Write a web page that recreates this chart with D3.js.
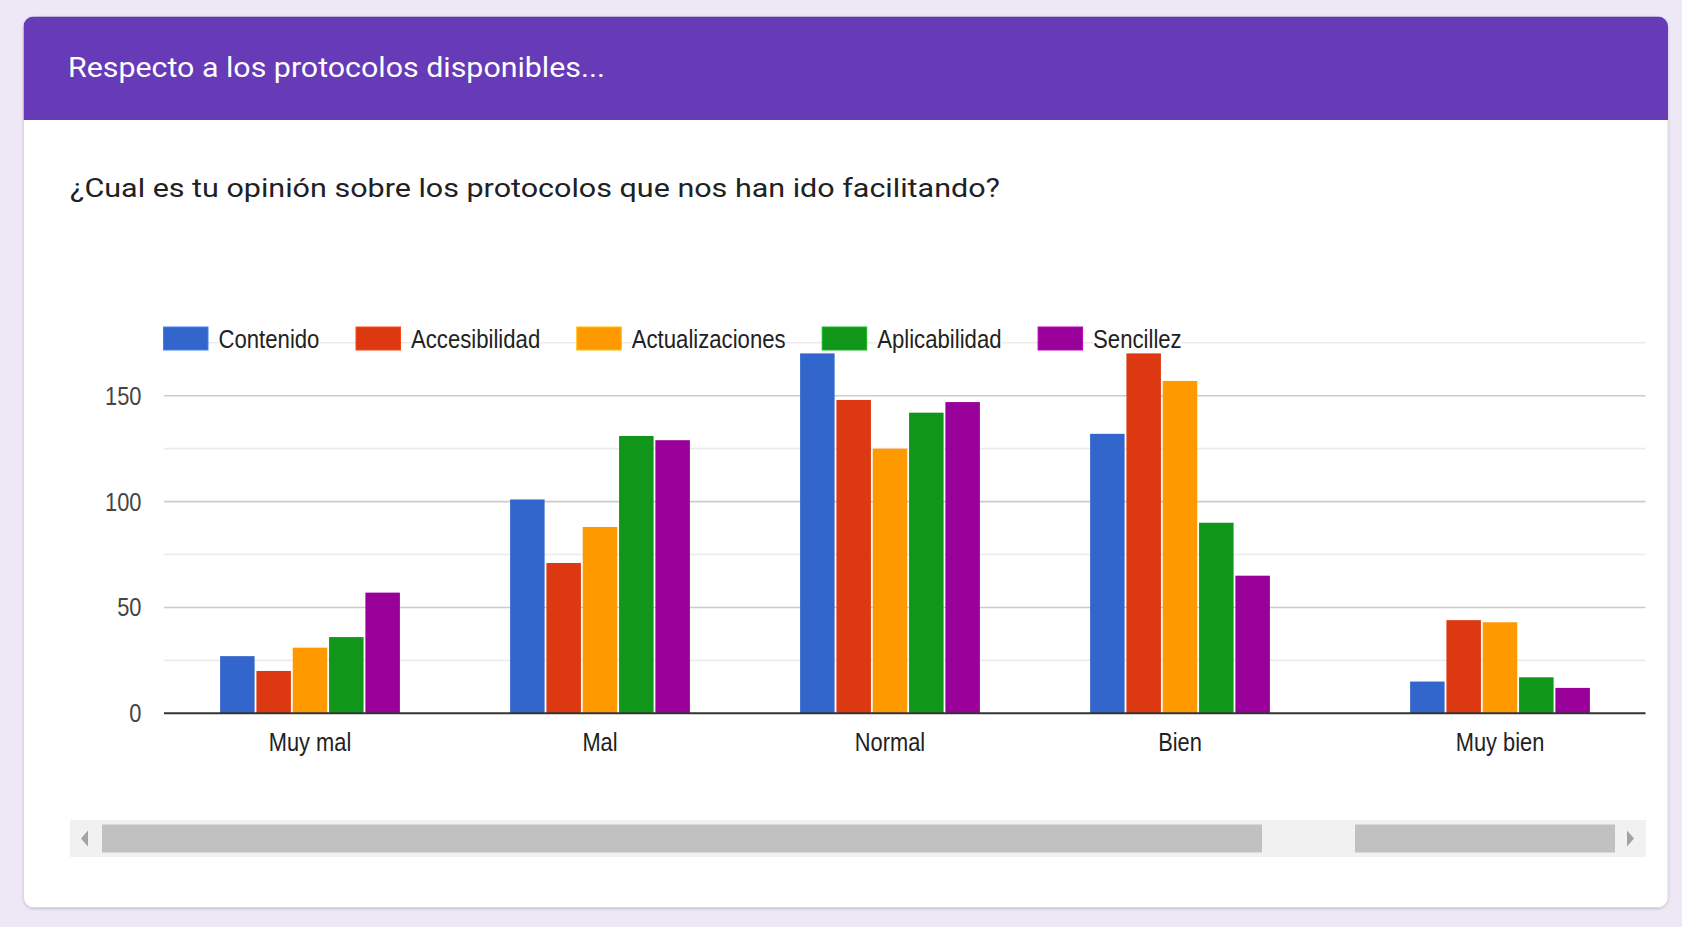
<!DOCTYPE html>
<html>
<head>
<meta charset="utf-8">
<script src="https://cdn.jsdelivr.net/npm/d3@7/dist/d3.min.js"></script>
<style>
  html, body { margin: 0; padding: 0; background: #ede7f6; }
  svg { display: block; }
</style>
</head>
<body>
<div id="chart"></div>
<script>
// ---- data ----
const categories = ["Muy mal", "Mal", "Normal", "Bien", "Muy bien"];
const seriesNames = ["Contenido", "Accesibilidad", "Actualizaciones", "Aplicabilidad", "Sencillez"];
const contenido       = [27, 101, 170, 132, 15];
const accesibilidad   = [20,  71, 148, 170, 44];
const actualizaciones = [31,  88, 125, 157, 43];
const aplicabilidad   = [36, 131, 142,  90, 17];
const sencillez       = [57, 129, 147,  65, 12];
const yLabels = [0, 50, 100, 150];
const gridValues = [0, 25, 50, 75, 100, 125, 150, 175];
const seriesColors = ["#3366cc", "#dc3912", "#ff9900", "#109618", "#990099"];
const sectionTitle = "Respecto a los protocolos disponibles...";
const questionText = "¿Cual es tu opinión sobre los protocolos que nos han ido facilitando?";

const seriesValues = [contenido, accesibilidad, actualizaciones, aplicabilidad, sencillez];

const width = 1682, height = 927;
const chartFont = "'Liberation Sans', Arial, sans-serif";
const narrowX = 0.84;       // the chart text in the capture is squeezed sideways
const legendNarrowX = 0.852;
const stitchShift = 30;     // capture is two scroll positions glued, last group sits further right

const svg = d3.select("#chart").append("svg")
    .attr("width", width)
    .attr("height", height);

const defs = svg.append("defs");
const shadow = defs.append("filter").attr("id", "cardShadow")
    .attr("x", "-5%").attr("y", "-5%").attr("width", "110%").attr("height", "110%");
shadow.append("feDropShadow")
    .attr("dx", 0).attr("dy", 1).attr("stdDeviation", 1.2)
    .attr("flood-color", "#000").attr("flood-opacity", 0.18);

// card
const card = { x: 23.5, y: 16.5, w: 1644.5, h: 891, r: 10 };
defs.append("clipPath").attr("id", "cardClip")
    .append("rect")
    .attr("x", card.x).attr("y", card.y)
    .attr("width", card.w).attr("height", card.h)
    .attr("rx", card.r);

svg.append("rect")
    .attr("x", card.x).attr("y", card.y)
    .attr("width", card.w).attr("height", card.h)
    .attr("rx", card.r)
    .attr("fill", "#fff")
    .attr("stroke", "#dadce0")
    .attr("filter", "url(#cardShadow)");

svg.append("rect")
    .attr("clip-path", "url(#cardClip)")
    .attr("x", card.x).attr("y", card.y)
    .attr("width", card.w).attr("height", 120 - card.y)
    .attr("fill", "#673ab7");

svg.append("text")
    .attr("x", 68).attr("y", 77)
    .attr("font-family", "Roboto, 'Open Sans', sans-serif")
    .attr("font-size", 28)
    .attr("fill", "#fff")
    .attr("textLength", 537)
    .attr("lengthAdjust", "spacingAndGlyphs")
    .text(sectionTitle);

svg.append("text")
    .attr("x", 70).attr("y", 197)
    .attr("font-family", "Roboto, 'Open Sans', sans-serif")
    .attr("font-size", 26)
    .attr("fill", "#202124")
    .attr("textLength", 930)
    .attr("lengthAdjust", "spacingAndGlyphs")
    .text(questionText);

// squeeze a text element sideways around its own anchor
function squeeze(sel) {
    sel.attr("transform", function() {
        const x = +this.getAttribute("x"), y = +this.getAttribute("y");
        return `translate(${x},${y}) scale(${narrowX},1) translate(${-x},${-y})`;
    });
}

// ---- scales ----
const plot = { left: 164, right: 1645.5, top: 342.8, bottom: 713.3 };

const y = d3.scaleLinear()
    .domain([0, 175])
    .range([plot.bottom, plot.top]);

const x0 = d3.scaleBand()
    .domain(categories)
    .range([165, 1615])
    .paddingInner(0.38)
    .paddingOuter(0.19);

const x1 = d3.scaleBand()
    .domain(seriesNames)
    .range([0, x0.bandwidth()])
    .paddingInner(0.05);

const color = d3.scaleOrdinal(seriesNames, seriesColors);

const groupX = c => x0(c) + (c === "Muy bien" ? stitchShift : 0);

// ---- grid ----
const grid = svg.append("g").attr("class", "grid");
grid.selectAll("line")
    .data(gridValues.filter(v => v > 0))
    .join("line")
    .attr("x1", plot.left).attr("x2", plot.right)
    .attr("y1", d => y(d)).attr("y2", d => y(d))
    .attr("stroke", d => d % 50 === 0 ? "#cccccc" : "#ebebeb")
    .attr("stroke-width", 1.6);

// y labels
svg.append("g").selectAll("text")
    .data(yLabels)
    .join("text")
    .attr("x", 141.5)
    .attr("y", d => y(d) + 9)
    .attr("text-anchor", "end")
    .attr("font-family", chartFont)
    .attr("font-size", 26)
    .attr("fill", "#444")
    .text(d => d)
    .call(squeeze);

// ---- bars ----
const rows = categories.map((c, i) => ({
    cat: c,
    vals: seriesNames.map((s, j) => ({ key: s, value: seriesValues[j][i] }))
}));

const groups = svg.append("g").selectAll("g")
    .data(rows)
    .join("g")
    .attr("transform", d => `translate(${groupX(d.cat)},0)`);

groups.selectAll("rect")
    .data(d => d.vals)
    .join("rect")
    .attr("x", d => x1(d.key))
    .attr("y", d => y(d.value))
    .attr("width", x1.bandwidth())
    .attr("height", d => y(0) - y(d.value))
    .attr("fill", d => color(d.key));

// zero line
svg.append("line")
    .attr("x1", plot.left).attr("x2", plot.right)
    .attr("y1", y(0)).attr("y2", y(0))
    .attr("stroke", "#333")
    .attr("stroke-width", 2);

// x labels
svg.append("g").selectAll("text")
    .data(categories)
    .join("text")
    .attr("x", d => groupX(d) + x0.bandwidth() / 2)
    .attr("y", 751)
    .attr("text-anchor", "middle")
    .attr("font-family", chartFont)
    .attr("font-size", 26)
    .attr("fill", "#222")
    .text(d => d)
    .call(squeeze);

// ---- legend ----
const legend = svg.append("g");
let lx = 163.5;
seriesNames.forEach(name => {
    const item = legend.append("g");
    item.append("rect")
        .attr("x", lx).attr("y", 327)
        .attr("width", 44.5).attr("height", 23)
        .attr("fill", color(name))
        .attr("stroke", d3.color(color(name)).brighter(0.6))
        .attr("stroke-width", 1);
    const tx = lx + 55;
    const bg = item.append("rect").attr("fill", "#fff");
    const t = item.append("text")
        .attr("x", tx).attr("y", 348)
        .attr("font-family", chartFont)
        .attr("font-size", 26)
        .attr("fill", "#222")
        .text(name);
    const tw = t.node().getComputedTextLength() * legendNarrowX;
    t.attr("transform", `translate(${tx},0) scale(${legendNarrowX},1) translate(${-tx},0)`);
    bg.attr("x", tx).attr("y", 330).attr("width", tw).attr("height", 20);
    lx = tx + tw + 36.5;
});

// ---- scrollbar under the chart ----
const sb = svg.append("g");
sb.append("rect")
    .attr("x", 70).attr("y", 820).attr("width", 1576).attr("height", 37)
    .attr("fill", "#f1f1f1");
sb.append("rect")
    .attr("x", 102).attr("y", 824.5).attr("width", 1160).attr("height", 28)
    .attr("fill", "#c1c1c1");
sb.append("rect")
    .attr("x", 1355).attr("y", 824.5).attr("width", 260).attr("height", 28)
    .attr("fill", "#c1c1c1");
sb.append("path")
    .attr("d", "M81,838.5 L88,830.5 L88,846.5 Z")
    .attr("fill", "#a3a3a3");
sb.append("path")
    .attr("d", "M1634,838.5 L1627,830.5 L1627,846.5 Z")
    .attr("fill", "#a3a3a3");
</script>
</body>
</html>
